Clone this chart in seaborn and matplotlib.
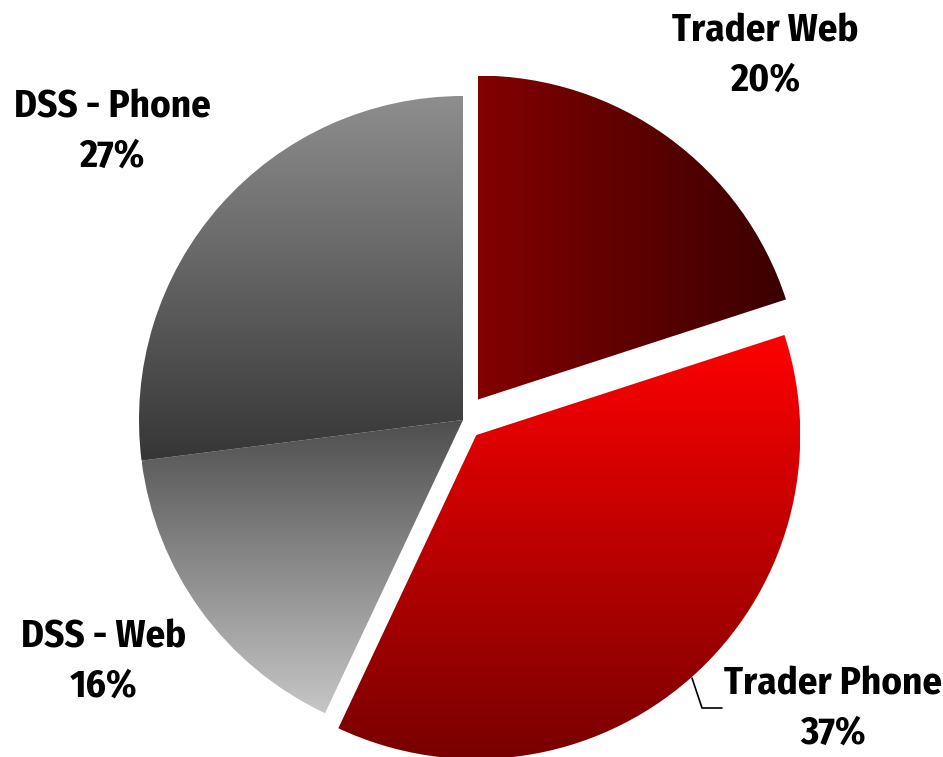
import numpy as np
import matplotlib
matplotlib.use("Agg")
import matplotlib.pyplot as plt
import seaborn as sns

# --- datos ---
labels = ["Trader Web", "Trader Phone", "DSS - Web", "DSS - Phone"]
shares = [20, 37, 16, 27]
explode_frac = [0.078, 0.062, 0.0, 0.0]

# colores del degradado (inicio, fin) y dirección por porción
grad_colors = [("#820000", "#3a0000"), ("#ff0000", "#780000"),
               ("#4e4e4e", "#c6c6c6"), ("#8e8e8e", "#363636")]
grad_dir = ["h", "v", "v", "v"]

# --- estilo ---
sns.set_theme(style="white")
plt.rcParams["font.family"] = ["Fira Sans Condensed", "DejaVu Sans"]

W, H = 943, 757
fig = plt.figure(figsize=(W / 100, H / 100), dpi=100)
ax = fig.add_axes([0, 0, 1, 1])

cx, cy, R = 463, H - 420, 324
wedges, _ = ax.pie(shares, explode=[e * R for e in explode_frac], startangle=90,
                   counterclock=False, radius=R, center=(cx, cy),
                   wedgeprops=dict(facecolor="none", edgecolor="none"))

# degradados recortados a cada porción
for w, (c0, c1), d in zip(wedges, grad_colors, grad_dir):
    ext = w.get_path().get_extents()
    cmap = sns.blend_palette([c0, c1], as_cmap=True)
    g = np.linspace(0, 1, 256)
    arr = g.reshape(1, -1) if d == "h" else g.reshape(-1, 1)
    im = ax.imshow(arr, cmap=cmap, extent=(ext.x0, ext.x1, ext.y0, ext.y1),
                   aspect="auto", interpolation="bicubic", zorder=1)
    im.set_clip_path(w)

# línea guía de Trader Phone
ax.plot([692, 702, 722], [H - 678, H - 708, H - 708], color="black", lw=1.2, zorder=3)

# etiquetas
label_pos = [(765, 56), (833, 709), (104, 662), (112, 132)]
for lab, s, (x, y) in zip(labels, shares, label_pos):
    ax.text(x, H - y, f"{lab}\n{s}%", ha="center", va="center", fontsize=28,
            fontweight="bold", linespacing=1.4, color="black", zorder=4)

ax.set_xlim(0, W)
ax.set_ylim(0, H)
ax.set_aspect("auto")
ax.axis("off")

fig.savefig("out.png", dpi=100, facecolor="white")
